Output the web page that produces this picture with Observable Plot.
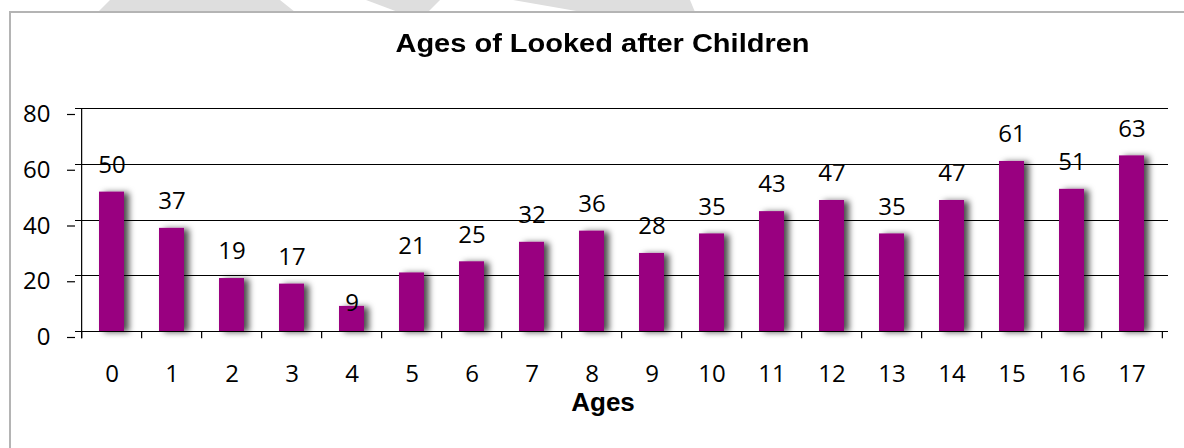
<!DOCTYPE html>
<html>
<head>
<meta charset="utf-8">
<script src="https://cdn.jsdelivr.net/npm/d3@7"></script>
<script src="https://cdn.jsdelivr.net/npm/@observablehq/plot@0.6"></script>
<style>
  html, body { margin: 0; padding: 0; background: #fff; }
  #wrap { position: relative; width: 1184px; height: 448px; overflow: hidden; background: #fff; }
  #deco { position: absolute; left: 0; top: 0; }
  #frame { position: absolute; left: 9px; top: 11px; width: 1300px; height: 600px; border-left: 2px solid #b4b4b4; border-top: 2px solid #b4b4b4; background: #fff; }
  #title { position: relative; height: 70px; box-sizing: border-box; width: 1184px; padding-left: 20px; padding-top: 28px;
           text-align: center; font-family: "Liberation Sans", Arial, sans-serif; font-weight: bold; font-size: 25px; line-height: 30px; color: #000; }
  #title span { display: inline-block; transform: scaleX(1.16); transform-origin: 50% 50%; }
  #chart { position: relative; }
</style>
</head>
<body>
<div id="wrap">
  <svg id="deco" width="1184" height="12">
    <polygon points="110,0 280,0 295,12 98,12" fill="#dedede"/>
    <polygon points="366,0 440,0 428,12 398,12" fill="#dedede"/>
    <polygon points="513,0 690,0 695,12 582,12" fill="#dedede"/>
  </svg>
  <div id="frame"></div>
  <div id="title"><span>Ages of Looked after Children</span></div>
  <div id="chart"></div>
</div>
<script>
const ages = ["0","1","2","3","4","5","6","7","8","9","10","11","12","13","14","15","16","17"];
const counts = [50,37,19,17,9,21,25,32,36,28,35,43,47,35,47,61,51,63];
const yTicks = [0,20,40,60,80];
const xLabel = "Ages";

const data = ages.map((a, i) => ({age: a, count: counts[i]}));

const W = 1184, H = 378, mL = 75, mR = 16, mT = 38, mB = 117;
const step = (W - mL - mR) / ages.length;
const tickU = 2.6; // tick length below axis, in y units

const chart = Plot.plot({
  width: W, height: H,
  marginLeft: mL, marginRight: mR, marginTop: mT, marginBottom: mB,
  style: {fontFamily: "'Open Sans', sans-serif", fontSize: "24px", color: "#000", background: "transparent", overflow: "visible"},
  x: {type: "band", domain: ages, paddingInner: 0.59, paddingOuter: 0.295, align: 0.5, label: null},
  y: {domain: [0, 80], label: null},
  marks: [
    Plot.ruleY(yTicks, {stroke: "#000", strokeWidth: 1, shapeRendering: "crispEdges"}),
    Plot.barY(data, {x: "age", y: "count", fill: "#990080"}),
    Plot.ruleX(ages, {dx: -step / 2, y1: 0, y2: -tickU, stroke: "#000", strokeWidth: 1.2}),
    Plot.ruleX([ages[ages.length - 1]], {dx: step / 2, y1: 0, y2: -tickU, stroke: "#000", strokeWidth: 1.2}),
    Plot.ruleX([ages[0]], {dx: -step / 2, y1: -tickU, y2: 80, stroke: "#000", strokeWidth: 1.2}),
    Plot.text(data, {x: "age", y: "count", text: d => String(d.count), dy: -27, filter: d => d.count >= 10, fill: "#000", fontSize: 24}),
    Plot.text(data, {x: "age", y: "count", text: d => String(d.count), dy: -3, filter: d => d.count < 10, fill: "#000", fontSize: 24}),
    Plot.axisY({ticks: yTicks, tickSize: 8, tickPadding: 17, dy: 6, label: null, fontSize: 24, strokeWidth: 1.2}),
    Plot.axisX({tickSize: 0, tickPadding: 33, label: null, fontSize: 24}),
    Plot.text([xLabel], {frameAnchor: "bottom", dx: -19, dy: 79, text: d => d, fontWeight: "bold", fontFamily: "'Liberation Sans', Arial, sans-serif", fontSize: 26, fill: "#000"})
  ]
});

const ns = "http://www.w3.org/2000/svg";
const defs = document.createElementNS(ns, "defs");
defs.innerHTML = '<filter id="barShadow" x="-50%" y="-20%" width="220%" height="140%"><feDropShadow dx="5" dy="1" stdDeviation="3" flood-color="#000" flood-opacity="0.7"/></filter>';
chart.prepend(defs);
const barG = chart.querySelector('g[aria-label="bar"]');
if (barG) barG.setAttribute("filter", "url(#barShadow)");

document.getElementById("chart").appendChild(chart);
</script>
</body>
</html>
